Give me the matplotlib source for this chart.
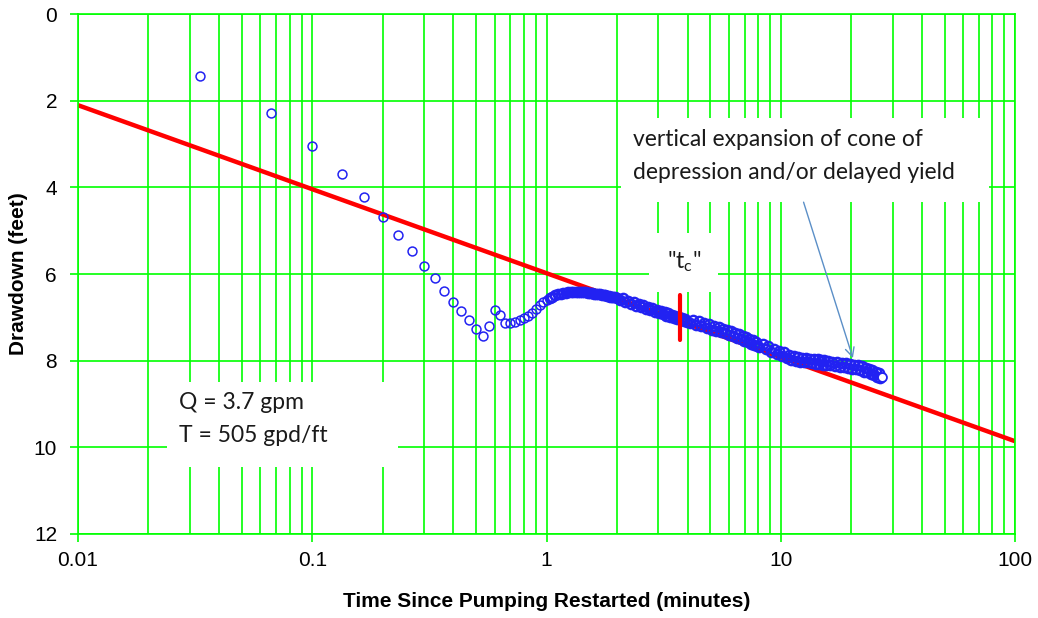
import matplotlib
matplotlib.use("Agg")
import matplotlib.pyplot as plt
from matplotlib.patches import Rectangle
from matplotlib.ticker import FixedLocator, FixedFormatter, LogLocator, NullFormatter

plt.rcParams['font.family'] = ['Liberation Sans', 'DejaVu Sans']
plt.rcParams['mathtext.default'] = 'regular'

# ---------------- data ----------------
# early readings, 2-second logger interval (minutes)
time_early = [0.0333, 0.0667, 0.1, 0.1333, 0.1667, 0.2, 0.2333, 0.2667, 0.3, 0.3333,
              0.3667, 0.4, 0.4333, 0.4667, 0.5, 0.5333, 0.5667, 0.6, 0.6333, 0.6667,
              0.7, 0.7333, 0.7667, 0.8, 0.8333, 0.8667, 0.9, 0.9333, 0.9667, 1.0]
drawdown_early = [1.43, 2.28, 3.05, 3.68, 4.22, 4.69, 5.10, 5.46, 5.81, 6.09,
                  6.38, 6.64, 6.85, 7.07, 7.27, 7.43, 7.20, 6.82, 6.94, 7.12,
                  7.14, 7.10, 7.06, 7.02, 6.97, 6.90, 6.80, 6.72, 6.65, 6.59]

time_a = [1.03, 1.06, 1.09, 1.12, 1.15, 1.18, 1.21, 1.24, 1.27, 1.30, 1.33,
          1.36, 1.39, 1.42, 1.45, 1.48, 1.51, 1.54, 1.57, 1.60, 1.63, 1.66,
          1.69, 1.72, 1.75, 1.78, 1.81, 1.84, 1.87, 1.90, 1.93, 1.96, 1.99]
drawdown_a = [6.55, 6.52, 6.49, 6.47, 6.45, 6.44, 6.43, 6.42, 6.42, 6.41, 6.41,
              6.41, 6.41, 6.41, 6.42, 6.42, 6.43, 6.43, 6.44, 6.45, 6.46, 6.47,
              6.47, 6.48, 6.49, 6.49, 6.50, 6.51, 6.52, 6.52, 6.53, 6.54, 6.55]

time_b = [2.05, 2.11, 2.17, 2.23, 2.29, 2.35, 2.41, 2.47, 2.53, 2.59, 2.65,
          2.71, 2.77, 2.83, 2.89, 2.95, 3.01, 3.07, 3.13, 3.19, 3.25, 3.31,
          3.37, 3.43, 3.49, 3.55, 3.61, 3.67, 3.73, 3.79, 3.85, 3.91, 3.97]
drawdown_b = [6.60, 6.56, 6.64, 6.61, 6.69, 6.65, 6.73, 6.69, 6.77, 6.72, 6.80,
              6.76, 6.84, 6.79, 6.87, 6.83, 6.90, 6.86, 6.93, 6.88, 6.96, 6.91,
              6.98, 6.94, 7.01, 6.96, 7.04, 6.99, 7.06, 7.01, 7.08, 7.03, 7.10]

time_c = [4.10, 4.22, 4.34, 4.46, 4.58, 4.70, 4.82, 4.94, 5.06, 5.18, 5.30,
          5.42, 5.54, 5.66, 5.78, 5.90, 6.02, 6.14, 6.26, 6.38, 6.50, 6.62,
          6.74, 6.86, 6.98, 7.10, 7.22, 7.34, 7.46, 7.58, 7.70, 7.82, 7.94]
drawdown_c = [7.14, 7.06, 7.18, 7.09, 7.21, 7.13, 7.24, 7.16, 7.28, 7.19, 7.31,
              7.23, 7.34, 7.26, 7.37, 7.29, 7.41, 7.32, 7.44, 7.36, 7.47, 7.39,
              7.51, 7.42, 7.54, 7.46, 7.57, 7.49, 7.61, 7.52, 7.64, 7.56, 7.67]

time_d = [8.10, 8.35, 8.60, 8.85, 9.10, 9.35, 9.60, 9.85, 10.10, 10.35, 10.60,
          10.85, 11.10, 11.35, 11.60, 11.85, 12.10, 12.35, 12.60, 12.85, 13.10,
          13.35, 13.60, 13.85, 14.10, 14.35, 14.60, 14.85, 15.10, 15.35, 15.60, 15.85]
drawdown_d = [7.69, 7.62, 7.74, 7.67, 7.79, 7.72, 7.84, 7.77, 7.89, 7.81, 7.94,
              7.86, 7.98, 7.89, 8.00, 7.91, 8.02, 7.93, 8.03, 7.94, 8.04,
              7.95, 8.06, 7.96, 8.07, 7.97, 8.08, 7.98, 8.09, 7.99, 8.10, 8.00]

time_e = [16.2, 16.6, 17.0, 17.4, 17.8, 18.2, 18.6, 19.0, 19.4, 19.8, 20.2,
          20.6, 21.0, 21.4, 21.8, 22.2, 22.6, 23.0, 23.4, 23.8, 24.2, 24.6,
          25.0, 25.4, 25.8, 26.2, 26.6, 27.0]
drawdown_e = [8.11, 8.02, 8.12, 8.03, 8.14, 8.05, 8.15, 8.06, 8.17, 8.08, 8.18,
              8.09, 8.20, 8.11, 8.22, 8.13, 8.25, 8.16, 8.27, 8.19, 8.30, 8.22,
              8.33, 8.25, 8.37, 8.29, 8.41, 8.38]

fit_time = [0.01, 100]
fit_drawdown = [2.10, 9.86]

tc_time = [3.70, 3.70]
tc_drawdown = [6.48, 7.52]

x_ticks = [0.01, 0.1, 1, 10, 100]
x_tick_labels = ['0.01', '0.1', '1', '10', '100']
y_ticks = [0, 2, 4, 6, 8, 10, 12]
y_tick_labels = ['0', '2', '4', '6', '8', '10', '12']

# ---------------- figure ----------------
fig = plt.figure(figsize=(10.38, 6.18), dpi=100)
ax = fig.add_axes([0.0751, 0.136, 0.9029, 0.841])

GREEN = '#00FF00'
BLUE = '#2222F2'
ax.set_xscale('log')
ax.set_xlim(0.01, 100)
ax.set_ylim(12, 0)

ax.xaxis.set_major_locator(FixedLocator(x_ticks))
ax.xaxis.set_major_formatter(FixedFormatter(x_tick_labels))
ax.xaxis.set_minor_locator(LogLocator(base=10, subs=range(2, 10), numticks=20))
ax.xaxis.set_minor_formatter(NullFormatter())
ax.yaxis.set_major_locator(FixedLocator(y_ticks))
ax.yaxis.set_major_formatter(FixedFormatter(y_tick_labels))

ax.grid(True, which='major', axis='both', color=GREEN, lw=1.2, zorder=0)
ax.grid(True, which='minor', axis='x', color=GREEN, lw=1.2, zorder=0)
ax.set_axisbelow(True)
for sp in ax.spines.values():
    sp.set_color(GREEN)
    sp.set_linewidth(1.2)
ax.tick_params(axis='both', which='major', color=GREEN, length=6, width=1.2,
               labelsize=15, labelcolor='black')
ax.tick_params(axis='y', which='major', pad=9)
ax.tick_params(axis='x', which='major', pad=6)
ax.tick_params(axis='x', which='minor', length=0)

ax.set_xlabel('Time Since Pumping Restarted (minutes)', fontsize=15,
              fontweight='bold', labelpad=16)
ax.set_ylabel('Drawdown (feet)', fontsize=15, fontweight='bold', labelpad=4)

# white text boxes covering the grid
box_kw = dict(facecolor='white', edgecolor='none', zorder=1.5)
ax.add_patch(Rectangle((2.07, 2.40), 77.4 - 2.07, 4.34 - 2.40, **box_kw))
ax.add_patch(Rectangle((2.73, 5.05), 5.38 - 2.73, 6.41 - 5.05, **box_kw))
ax.add_patch(Rectangle((0.024, 8.49), 0.233 - 0.024, 10.45 - 8.49, **box_kw))

# straight-line fit
ax.plot(fit_time, fit_drawdown, color='#FF0000', lw=3.2, zorder=2,
        solid_capstyle='butt')

# observations
ax.plot(time_early, drawdown_early, linestyle='none',
        marker='o', markersize=6.4, markerfacecolor='none',
        markeredgecolor=BLUE, markeredgewidth=1.1, zorder=3)
late_time = time_a + time_b + time_c + time_d + time_e
late_drawdown = drawdown_a + drawdown_b + drawdown_c + drawdown_d + drawdown_e
ax.plot(late_time[:-1], late_drawdown[:-1], linestyle='none',
        marker='o', markersize=6.7, markerfacecolor='none',
        markeredgecolor=BLUE, markeredgewidth=1.7, zorder=3)
ax.plot(late_time[-1:], late_drawdown[-1:], linestyle='none',
        marker='o', markersize=6.4, markerfacecolor='white',
        markeredgecolor=BLUE, markeredgewidth=1.3, zorder=3.1)

# t_c marker drawn over the data
ax.plot(tc_time, tc_drawdown, color='#FF0000', lw=3.0, zorder=3.5,
        solid_capstyle='round')

# annotations
txt_font = ['Lato', 'DejaVu Sans']
ax.text(2.33, 3.28, 'vertical expansion of cone of\ndepression and/or delayed yield',
        fontsize=16.5, family=txt_font, ha='left', va='center', linespacing=1.72,
        color='#1a1a1a', zorder=4)
ax.text(0.027, 9.34, 'Q = 3.7 gpm\nT = 505 gpd/ft', fontsize=16.5, family=txt_font,
        ha='left', va='center', linespacing=1.72, color='#1a1a1a', zorder=4)
ax.text(3.85, 5.72, '"t$_{c}$"', fontsize=16.5, family=txt_font, ha='center',
        va='center', color='#1a1a1a', zorder=4)
ax.annotate('', xy=(20.3, 7.94), xytext=(12.5, 4.34),
            arrowprops=dict(arrowstyle='->', color='#5B8FC7', lw=1.0,
                            mutation_scale=16, shrinkA=0, shrinkB=0),
            zorder=4)

fig.savefig('out.png', dpi=100, facecolor='white')
